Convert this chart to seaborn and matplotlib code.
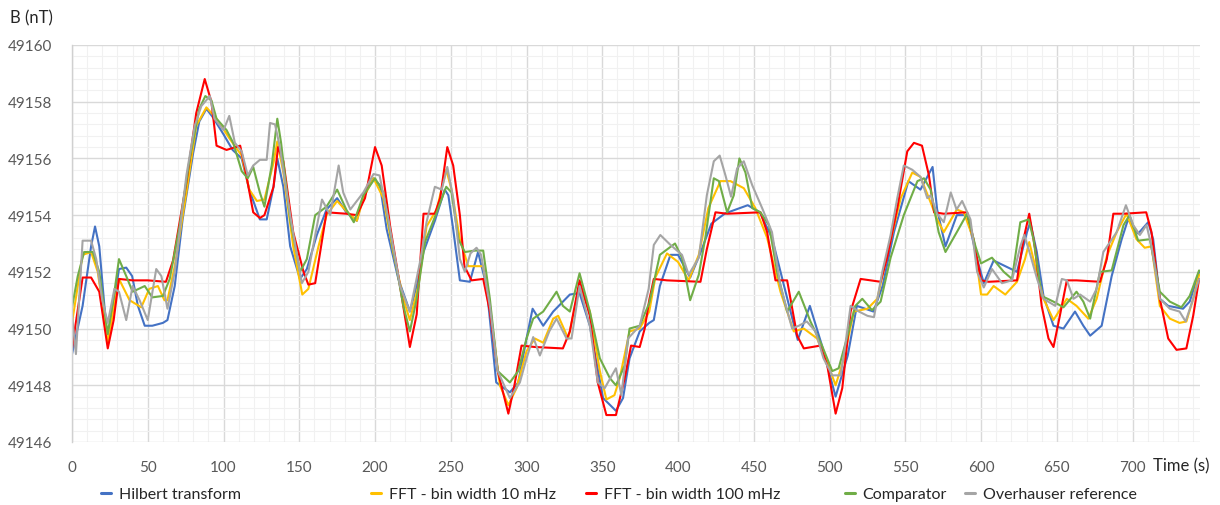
import matplotlib
matplotlib.use("Agg")
import matplotlib.pyplot as plt
from matplotlib.lines import Line2D
from matplotlib.ticker import MultipleLocator
import pandas as pd
import seaborn as sns

# ---------------- data (time s, field nT) ----------------
series_names = ["Hilbert transform", "FFT - bin width 10 mHz", "FFT - bin width 100 mHz",
                "Comparator", "Overhauser reference"]
series_colors = ["#4472C4", "#FFC000", "#FF0000", "#70AD47", "#A5A5A5"]

hilbert = [(0,49149.1),(7,49150.8),(12.6,49152.9),(15.2,49153.6),(18,49152.9),(22.5,49150.1),(24,49149.9),
    (28,49151.0),(31,49152.1),(35.8,49152.15),(39.7,49151.85),(43.5,49150.8),(48,49150.1),(53,49150.1),
    (60,49150.2),(63,49150.3),(67.8,49151.5),(73,49153.85),(80,49156.2),(84,49157.3),(88.7,49157.75),
    (93,49157.45),(100,49156.85),(106,49156.3),(112,49156.0),(117,49154.9),(124,49153.85),(128.5,49153.85),
    (133,49155.0),(135.5,49156.0),(139.5,49155.0),(144,49152.9),(150.5,49151.75),(155,49152.1),
    (161.6,49153.3),(168,49154.2),(175,49154.6),(181,49154.1),(188,49153.8),(192.3,49154.7),(199,49155.3),
    (203.3,49155.05),(207.7,49153.5),(215.4,49151.75),(223,49150.6),(227.5,49151.5),(232,49152.7),
    (239.5,49153.8),(246,49154.9),(248.4,49154.7),(251.6,49153.5),(256,49151.7),(262.6,49151.65),
    (268,49152.7),(273.6,49151.5),(280,49148.1),(289,49147.75),(294.5,49148.1),(300,49149.65),
    (304,49150.7),(311,49150.1),(317.6,49150.6),(328.6,49151.2),(335,49151.25),(341.8,49150.1),
    (350.5,49147.55),(359,49147.1),(363.7,49147.55),(368,49148.95),(374.7,49149.9),(381,49150.2),
    (384,49150.3),(388,49151.5),(395,49152.6),(400,49152.6),(408,49151.8),(415,49152.7),(422,49153.7),
    (431,49154.06),(446,49154.35),(454,49154.1),(462,49153.2),(470,49151.5),(479,49149.6),(487,49150.8),
    (495,49149.4),(504,49147.6),(512,49149.05),(518,49150.8),(529,49150.6),(535,49151.5),(542.5,49153.4),
    (552,49155.2),(560,49154.9),(568,49155.7),(571,49154.2),(576.5,49152.9),(584,49154.0),(590.8,49154.0),
    (597.4,49152.45),(601.8,49151.6),(608.3,49152.4),(616,49152.2),(623.7,49152.0),(630.3,49153.4),
    (632.5,49153.75),(636.8,49152.7),(641.2,49151.15),(647.8,49150.1),(654.4,49150.0),(662,49150.6),
    (667.5,49150.1),(672,49149.75),(679.6,49150.1),(686.2,49151.85),(692.8,49153.15),(697,49153.85),
    (703.7,49153.35),(710.3,49153.75),(713.6,49153.15),(718,49151.05),(723.5,49150.8),(733.3,49150.7),
    (737.7,49150.95),(743.9,49152.0)]

fft_10mhz = [(0,49150.2),(7,49152.6),(12.6,49152.7),(17,49152.0),(23.6,49149.5),(31,49151.75),(38,49151.0),
    (45.7,49150.75),(51,49151.4),(56.7,49151.5),(61,49151.0),(63,49151.0),(67.8,49152.2),(75.5,49154.8),
    (82,49157.15),(88.7,49157.8),(95.4,49157.4),(104,49156.7),(112,49156.1),(117,49154.9),(122,49154.5),
    (127,49154.55),(133,49155.85),(135.5,49156.6),(139.5,49155.5),(146,49152.9),(152,49151.2),(156,49151.4),
    (162.7,49152.9),(168,49154.0),(175,49154.5),(181,49154.15),(188,49153.8),(192.3,49154.6),(199,49155.3),
    (205.5,49154.6),(212,49152.7),(218.7,49151.05),(223,49150.3),(228.6,49151.5),(234,49153.6),
    (240.7,49154.2),(247,49155.6),(250.5,49154.9),(256,49153.15),(261.5,49152.2),(268,49152.2),
    (271.4,49152.2),(275.8,49150.8),(282.4,49148.0),(288,49147.3),(293.4,49147.9),(300,49149.2),
    (305.5,49149.65),(311,49149.5),(317.6,49150.35),(320.9,49150.45),(327.5,49149.65),(335,49151.5),
    (341.8,49150.6),(348.4,49148.5),(352.7,49147.5),(358,49147.65),(361.5,49148.25),(368,49149.9),
    (374.7,49150.0),(381,49150.6),(385,49151.8),(392.7,49152.65),(400,49152.35),(407,49151.7),
    (413.7,49152.6),(420,49154.25),(428,49155.2),(434.6,49155.2),(443.4,49154.95),(451,49154.25),
    (458.8,49153.2),(467.6,49151.3),(476.4,49149.9),(483,49150.0),(491.8,49149.65),(498.5,49148.8),
    (504,49148.0),(509.5,49148.95),(516,49150.6),(525,49150.7),(531.5,49151.05),(538,49152.6),
    (547,49154.6),(554.6,49155.5),(560,49155.35),(566.7,49154.45),(571,49153.85),(575.4,49153.4),
    (584,49154.2),(588.6,49154.1),(595,49153.15),(600,49151.2),(604,49151.2),(608.3,49151.5),(616,49151.2),
    (623.7,49151.65),(629,49152.45),(631.8,49153.05),(635.7,49152.2),(641.2,49151.05),(647.8,49150.3),
    (656.6,49151.05),(663,49150.8),(670.8,49150.35),(676.3,49151.05),(683,49152.55),(689.5,49153.4),
    (696,49154.05),(702.6,49153.15),(708,49152.85),(712.5,49152.9),(718,49150.8),(724.6,49150.35),
    (731,49150.2),(735.5,49150.25),(740,49151.05),(743.9,49151.9)]

fft_100mhz = [(0,49149.3),(7,49151.8),(12.6,49151.8),(18,49151.3),(23.6,49149.3),(27.5,49150.3),(31,49151.75),
    (40,49151.7),(50,49151.7),(62,49151.65),(66.7,49152.4),(75.5,49155.15),(82,49157.6),(87.6,49158.8),
    (92,49158.0),(95.4,49156.45),(102,49156.3),(111,49156.45),(114,49155.7),(119.6,49154.1),(124,49153.9),
    (127,49154.0),(133,49155.0),(136,49156.4),(139.5,49155.9),(146,49153.4),(152.8,49152.0),(156,49151.55),
    (160.5,49151.6),(168,49154.1),(181,49154.05),(188,49154.0),(193.4,49154.6),(200,49156.4),
    (204.4,49155.75),(210,49153.6),(216.5,49151.5),(223,49149.35),(227.5,49150.5),(232,49154.05),
    (239.5,49154.05),(243,49154.6),(247.7,49156.4),(251.6,49155.75),(256,49154.0),(259,49152.2),
    (263.7,49151.7),(271.4,49151.75),(275.8,49150.6),(281,49148.5),(288,49147.0),(292,49148.0),
    (296.7,49149.4),(305.5,49149.35),(324,49149.3),(328.6,49149.9),(335,49151.7),(341.8,49150.45),
    (347,49148.1),(352.7,49146.95),(359,49146.95),(364.8,49148.25),(369,49149.4),(374.7,49149.35),
    (378,49150.0),(381,49151.0),(384,49151.75),(392.7,49151.7),(414.8,49151.65),(419,49152.8),
    (424.7,49154.1),(432.4,49154.05),(454.4,49154.1),(458.8,49153.4),(464.3,49151.7),(472,49151.7),
    (478.6,49149.75),(483,49149.3),(494,49149.4),(498.5,49148.7),(504,49147.0),(508.4,49147.9),
    (513.9,49150.6),(520.5,49151.75),(533.7,49151.65),(538,49152.5),(544.7,49154.25),(551.3,49156.25),
    (555.7,49156.55),(561,49156.45),(565.6,49155.4),(569,49154.1),(575.4,49154.05),(590.8,49154.1),
    (595,49153.15),(600,49151.7),(605,49151.65),(623.7,49151.7),(628,49153.15),(631.8,49154.05),
    (635.7,49152.8),(640,49150.8),(644.5,49149.65),(647.8,49149.35),(652,49150.45),(656.6,49151.7),
    (663,49151.7),(678.5,49151.65),(683,49152.45),(687.3,49154.05),(694,49154.05),(709,49154.1),
    (712.5,49153.4),(718,49151.05),(723.5,49149.65),(729,49149.25),(735.5,49149.3),(740,49150.45),
    (743.9,49151.75)]

comparator = [(0,49150.75),(3.8,49151.85),(8,49152.7),(13.7,49152.7),(18,49152.0),(23.6,49149.8),(28,49151.3),
    (31,49152.45),(35.8,49151.85),(40,49151.3),(48,49151.5),(53,49151.1),(60,49151.15),(64.5,49151.75),
    (71,49153.6),(77.7,49156.0),(84,49157.75),(88,49158.2),(92,49158.05),(95.4,49157.4),(102,49157.0),
    (106.4,49156.55),(112,49155.55),(116,49155.3),(119.6,49155.7),(124,49154.8),(127,49154.3),
    (131.8,49155.75),(135.5,49157.4),(138,49156.55),(144,49153.85),(150.5,49152.0),(155,49152.45),
    (160.5,49154.0),(168,49154.3),(175,49154.9),(181,49154.2),(186,49153.75),(192.3,49154.7),(200,49155.3),
    (205.5,49154.8),(212,49152.8),(218.7,49150.8),(223,49149.9),(227.5,49151.05),(233,49153.05),
    (240.7,49154.1),(247,49155.0),(250.5,49154.8),(255,49153.15),(259.3,49152.7),(266,49152.75),
    (271.4,49152.75),(275.8,49151.05),(281,49148.5),(289,49148.1),(294.5,49148.5),(300,49149.65),
    (304.4,49150.35),(311,49150.6),(319.8,49151.3),(324,49150.8),(328.6,49150.6),(335,49151.95),
    (341.8,49150.6),(348.4,49148.95),(355,49148.25),(359,49148.0),(364.8,49148.7),(368,49150.0),
    (374.7,49150.1),(381,49150.9),(388,49152.6),(398,49153.0),(402.6,49152.5),(408,49151.0),(413.7,49151.9),
    (418,49153.2),(423.6,49155.3),(427,49155.2),(432.4,49154.1),(436.8,49154.7),(440.5,49156.0),
    (444.5,49155.5),(449,49154.25),(454.4,49154.1),(460,49153.65),(465.4,49152.0),(472,49150.6),
    (479.7,49151.3),(487.4,49150.25),(495,49149.4),(501.8,49148.5),(506,49148.6),(510.6,49149.5),
    (517,49150.8),(521.6,49151.05),(528,49150.65),(533.7,49150.95),(540.3,49152.5),(549,49154.0),
    (558,49155.2),(562.3,49155.3),(566.7,49154.9),(572,49153.4),(576.5,49152.7),(584,49153.4),
    (590.8,49154.05),(596.3,49152.9),(600,49152.3),(607.2,49152.5),(615,49152.0),(620.4,49151.75),
    (625.9,49153.75),(631.4,49153.85),(634.6,49153.15),(640,49151.15),(647.8,49150.95),(654.4,49150.75),
    (663,49151.3),(667.5,49150.95),(672,49150.35),(678.5,49152.0),(686.2,49152.05),(694,49153.65),
    (698,49154.0),(703.7,49153.1),(711.4,49153.15),(718,49151.3),(724.6,49150.95),(732.2,49150.75),
    (737.7,49151.15),(743.9,49152.05)]

overhauser = [(0,49150.5),(2.6,49149.1),(7,49153.1),(12.6,49153.1),(16,49152.45),(20,49151.0),(23.6,49150.2),
    (28,49151.4),(31,49151.3),(35.8,49150.3),(40,49151.5),(44.6,49151.0),(50,49150.3),(55.6,49152.1),
    (59,49151.85),(63,49150.7),(67.8,49152.0),(75.5,49155.4),(81,49157.15),(85.4,49157.85),(91,49158.2),
    (94,49157.4),(100,49157.0),(103.8,49157.5),(107.5,49156.55),(112,49156.25),(116,49155.4),
    (119.6,49155.75),(124,49155.95),(128.5,49155.95),(130.7,49157.25),(134,49157.2),(137,49156.45),
    (144,49154.0),(151.7,49151.6),(156,49152.0),(161.6,49153.6),(165,49154.55),(170.4,49154.0),
    (176,49155.75),(179,49154.8),(183.7,49154.2),(192.3,49154.8),(199,49155.45),(203,49155.4),
    (208.8,49153.85),(216.5,49151.5),(223,49150.6),(229.7,49152.35),(234,49153.75),(239.5,49155.0),
    (244,49154.9),(247.7,49155.7),(251.6,49154.6),(256,49152.45),(259.3,49152.0),(263,49152.65),
    (267,49152.85),(270,49152.6),(275.8,49150.8),(281,49148.5),(289,49147.55),(295.6,49148.1),
    (300,49148.95),(304.4,49149.7),(308.8,49149.05),(315,49149.9),(319.8,49150.35),(326.4,49149.65),
    (329.7,49149.65),(335,49151.5),(341.8,49150.1),(347,49148.1),(351.6,49147.9),(359,49148.6),
    (362.6,49147.65),(367,49149.65),(374.7,49150.1),(380.6,49151.4),(384,49152.95),(388.3,49153.3),
    (395,49152.95),(402.6,49152.6),(407,49151.9),(413.7,49152.5),(419,49154.7),(423.6,49155.9),
    (427.5,49156.1),(431.3,49155.4),(435,49154.65),(439,49155.65),(443.4,49155.9),(449,49155.05),
    (455.5,49154.25),(462,49153.4),(467.6,49151.5),(475.3,49150.0),(479.7,49150.1),(485,49150.25),
    (490.7,49149.9),(496,49148.95),(501.8,49148.35),(507.3,49148.35),(510.6,49149.5),(513.9,49150.8),
    (519.4,49150.6),(525,49150.45),(529.3,49150.4),(534.8,49152.0),(540.3,49153.3),(544.7,49154.6),
    (549,49155.75),(554.6,49155.6),(560,49155.35),(564.5,49154.6),(566.7,49154.7),(571,49154.05),
    (575.4,49153.75),(580,49154.8),(583.8,49154.2),(587.5,49154.5),(593,49153.85),(597.4,49152.0),
    (601.8,49151.45),(607.2,49152.1),(613.8,49151.6),(620.4,49151.7),(625.9,49152.9),(628.5,49153.3),
    (632.5,49152.6),(637,49151.75),(641.2,49151.05),(649,49150.8),(653.3,49151.75),(656.6,49151.7),
    (661,49151.05),(665.4,49151.2),(672,49150.95),(676.3,49151.4),(680.7,49152.7),(689.5,49153.4),
    (695.6,49154.35),(700.4,49153.65),(704.8,49153.3),(709.2,49153.65),(712.5,49152.9),(718,49151.05),
    (724.6,49150.7),(731,49150.6),(735,49150.25),(740,49151.05),(743.9,49151.75)]

# ---------------- build long table ----------------
frames = []
for name, pts in zip(series_names, [hilbert, fft_10mhz, fft_100mhz, comparator, overhauser]):
    d = pd.DataFrame(pts, columns=["t", "B"])
    d["series"] = name
    frames.append(d)
df = pd.concat(frames, ignore_index=True)

sns.set_theme(style="white")
plt.rcParams["font.family"] = ["Lato", "DejaVu Sans"]

W, H = 1220, 506
fig = plt.figure(figsize=(W / 100, H / 100), dpi=100)
ax = fig.add_axes([72 / W, 63 / H, 1128 / W, 397 / H])

sns.lineplot(data=df, x="t", y="B", hue="series", hue_order=series_names,
             palette=dict(zip(series_names, series_colors)), sort=False, estimator=None,
             linewidth=1.5, legend=False, ax=ax)
for ln in ax.get_lines():
    ln.set_solid_joinstyle("round")
    ln.set_solid_capstyle("round")

ax.set_xlim(0, 744.5)
ax.set_ylim(49146, 49160)
ax.xaxis.set_major_locator(MultipleLocator(50))
ax.xaxis.set_minor_locator(MultipleLocator(10))
ax.yaxis.set_major_locator(MultipleLocator(2))
ax.yaxis.set_minor_locator(MultipleLocator(0.4))
ax.grid(which="major", color="#d9d9d9", linewidth=1.0)
ax.grid(which="minor", color="#f1f1f1", linewidth=0.8)
ax.set_axisbelow(True)
for s in ["top", "right", "bottom"]:
    ax.spines[s].set_visible(False)
ax.spines["left"].set_color("#d0d0d0")
ax.spines["left"].set_linewidth(1.0)

ax.tick_params(axis="both", which="both", length=0, labelsize=11, labelcolor="#595959")
ax.tick_params(axis="x", pad=13)
ax.tick_params(axis="y", pad=14)
ax.set_xticks([v for v in range(0, 701, 50)])
ax.set_xticklabels([str(v) for v in range(0, 701, 50)])
ax.set_xlabel("")
ax.set_ylabel("")

fig.text(10 / W, 1 - 18 / H, "B (nT)", fontsize=12, color="#262626", ha="left", va="center")
fig.text(1153 / W, 1 - 466 / H, "Time (s)", fontsize=12, color="#262626", ha="left", va="center")

legend_x = [101, 371, 586, 845, 965]
for name, col, lx in zip(series_names, series_colors, legend_x):
    h = Line2D([], [], color=col, linewidth=2.2)
    fig.legend(handles=[h], labels=[name], loc="center left",
               bbox_to_anchor=(lx / W, 1 - 495 / H), frameon=False, borderpad=0,
               borderaxespad=0, handlelength=0.6, handletextpad=0.5, fontsize=11.5,
               labelcolor="#262626")

fig.savefig("out.png", dpi=100)
